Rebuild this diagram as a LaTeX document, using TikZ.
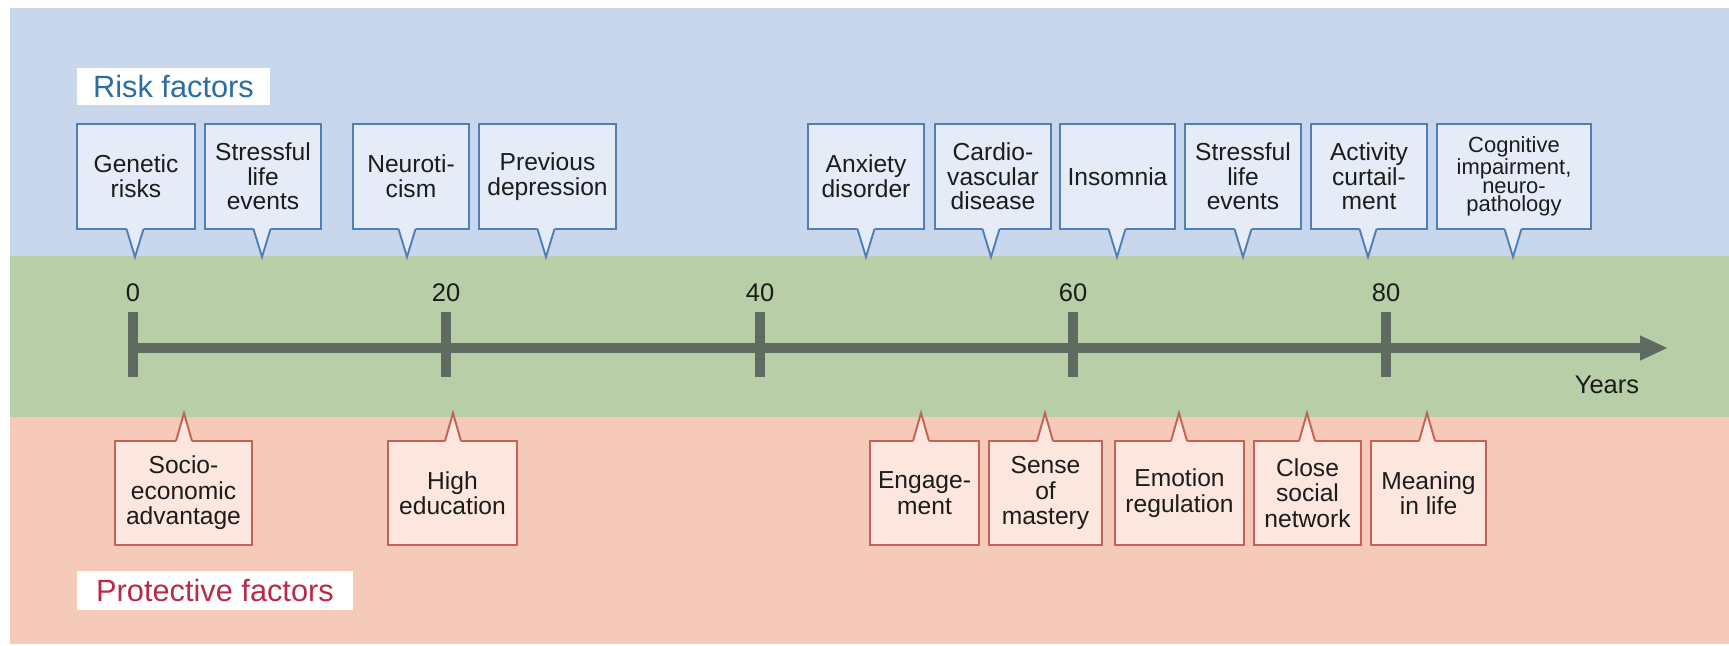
\documentclass[tikz,border=0pt]{standalone}
\usepackage{fontspec}
\setmainfont{Liberation Sans}
\usetikzlibrary{arrows.meta}
\definecolor{bandblue}{HTML}{C9D7EC}
\definecolor{bandgreen}{HTML}{B8CEA6}
\definecolor{bandpink}{HTML}{F5CAB9}
\definecolor{riskfill}{HTML}{E6ECF7}
\definecolor{riskborder}{HTML}{4F80B5}
\definecolor{protfill}{HTML}{FCE6DE}
\definecolor{protborder}{HTML}{C4625A}
\definecolor{axiscol}{HTML}{5F6A60}
\definecolor{riskcol}{HTML}{2A6EA2}
\definecolor{protcol}{HTML}{B92A4A}
\definecolor{textcol}{HTML}{1C1C1C}
\newcommand\boxfont{\fontsize{14}{14}\selectfont}
\newcommand\smallboxfont{\fontsize{12.5}{10.6}\selectfont}
\newcommand\riskitem[6][\boxfont]{%
  \node[riskbox, font=#1, minimum width={(#4-#3)*0.02cm}, minimum height=2.1cm] (#2) at ({(#3+#4)/2},176.5) {#6};
  \fill[riskfill] (#5-8.5,226) -- (#5-8.5,230) -- (#5,257) -- (#5+8.5,230) -- (#5+8.5,226) -- cycle;
  \draw[riskline] (#5-8.5,229) -- (#5,257) -- (#5+8.5,229);
}
\newcommand\protitem[5]{%
  \node[protbox, minimum width={(#3-#2)*0.02cm}, minimum height=2.08cm] (#1) at ({(#2+#3)/2},493) {#5};
  \fill[protfill] (#4-8,444) -- (#4-8,440) -- (#4,413) -- (#4+8,440) -- (#4+8,444) -- cycle;
  \draw[protline] (#4-8,441) -- (#4,413) -- (#4+8,441);
}
\tikzset{
  riskbox/.style={draw=riskborder, fill=riskfill, line width=1.1pt, inner sep=0pt, align=center, text=textcol},
  riskline/.style={draw=riskborder, line width=1.1pt, line join=miter},
  protbox/.style={draw=protborder, fill=protfill, line width=1.1pt, inner sep=0pt, align=center, text=textcol, font=\fontsize{14}{14.5}\selectfont},
  protline/.style={draw=protborder, line width=1.1pt, line join=miter},
  ticklab/.style={font=\fontsize{14.5}{15}\selectfont, text=textcol, inner sep=0pt},
  tickmark/.style={draw=axiscol, line width=5.3pt},
  axisline/.style={draw=axiscol, line width=5.3pt, -{Triangle[length=0.56cm, width=0.46cm]}},
  header/.style={fill=white, inner sep=0pt, font=\fontsize{17.5}{18}\selectfont}
}
\begin{document}
\begin{tikzpicture}[x=0.02cm, y=-0.02cm]
\useasboundingbox (0,0) rectangle (1729,646);
% bands
\fill[bandblue] (10,8) rectangle (1729,256);
\fill[bandgreen] (10,256) rectangle (1729,417);
\fill[bandpink] (10,417) rectangle (1729,644);
% headers
\node[header, text=riskcol, minimum width=3.86cm, minimum height=0.74cm] (riskhead) at (173.5,86.5) {Risk factors};
\node[header, text=protcol, minimum width=5.52cm, minimum height=0.78cm] (prothead) at (215,590.5) {Protective factors};
% axis
\coordinate (ax0) at (133,348);
\coordinate (axend) at (1668,348);
\draw[axisline] (ax0) -- (axend);
\foreach \v/\xx in {0/133, 20/446, 40/760, 60/1073, 80/1386}{
  \node[ticklab] (lab\v) at (\xx,293) {\v};
  \coordinate (tt\v) at (\xx,312);
  \coordinate (tb\v) at (\xx,377);
  \draw[tickmark] (tt\v) -- (tb\v);
}
\node[ticklab] (years) at (1607,385) {Years};
% risk factors
\riskitem{r1}{77}{195}{135}{Genetic\\risks}
\riskitem{r2}{205}{321}{262}{Stressful\\life\\events}
\riskitem{r3}{353}{469}{407}{Neuroti-\\cism}
\riskitem{r4}{479}{616}{546}{Previous\\depression}
\riskitem{r5}{808}{924}{866}{Anxiety\\disorder}
\riskitem{r6}{935}{1051}{991}{Cardio-\\vascular\\disease}
\riskitem{r7}{1060}{1175}{1117}{Insomnia}
\riskitem{r8}{1185}{1301}{1243}{Stressful\\life\\events}
\riskitem{r9}{1311}{1427}{1368}{Activity\\curtail-\\ment}
\riskitem[\smallboxfont]{r10}{1437}{1591}{1513}{Cognitive\\impairment,\\neuro-\\pathology}
% protective factors
\protitem{p1}{115}{252}{184}{Socio-\\economic\\advantage}
\protitem{p2}{388}{517}{453}{High\\education}
\protitem{p3}{870}{979}{921}{Engage-\\ment}
\protitem{p4}{989}{1102}{1045}{Sense\\of\\mastery}
\protitem{p5}{1115}{1244}{1179}{Emotion\\regulation}
\protitem{p6}{1254}{1361}{1307}{Close\\social\\network}
\protitem{p7}{1371}{1486}{1427}{Meaning\\in life}
\end{tikzpicture}
\end{document}
